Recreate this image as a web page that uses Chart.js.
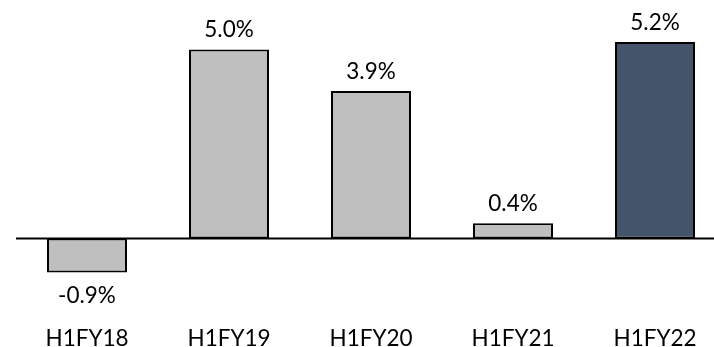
<!DOCTYPE html>
<html>
<head>
<meta charset="utf-8">
<script src="https://cdn.jsdelivr.net/npm/chart.js@4/dist/chart.umd.min.js"></script>
<style>
  html, body { margin: 0; padding: 0; background: #fff; overflow: hidden; }
  #wrap { position: relative; width: 726px; height: 347px; }
</style>
</head>
<body>
<div id="wrap"><canvas id="c"></canvas></div>
<script>
// Half-year growth figures
const categories = ['H1FY18', 'H1FY19', 'H1FY20', 'H1FY21', 'H1FY22'];
const growth = [-0.9, 5.0, 3.9, 0.4, 5.2];
const valueLabels = ['-0.9%', '5.0%', '3.9%', '0.4%', '5.2%'];

const FONT = 'Lato, "DejaVu Sans", sans-serif';
const FONT_SIZE = 22.5;
const fills = growth.map((v, i) => i === growth.length - 1 ? '#44546a' : '#bfbfbf');

// Zero baseline across the plot, then value labels above/below each bar
const baseline = {
  id: 'baseline',
  afterDatasetsDraw(chart) {
    const { ctx, chartArea, scales } = chart;
    const y0 = scales.y.getPixelForValue(0);
    ctx.save();
    ctx.strokeStyle = '#000';
    ctx.lineWidth = 2;
    ctx.beginPath();
    ctx.moveTo(chartArea.left, y0);
    ctx.lineTo(chartArea.right, y0);
    ctx.stroke();

    ctx.fillStyle = '#000';
    ctx.font = FONT_SIZE + 'px ' + FONT;
    ctx.textAlign = 'center';
    ctx.textBaseline = 'alphabetic';
    const meta = chart.getDatasetMeta(0);
    meta.data.forEach((bar, i) => {
      const v = growth[i];
      if (v >= 0) {
        ctx.fillText(valueLabels[i], bar.x, bar.y - 12);
      } else {
        ctx.fillText(valueLabels[i], bar.x, bar.y + 31);
      }
    });
    ctx.restore();
  }
};

new Chart(document.getElementById('c'), {
  type: 'bar',
  data: {
    labels: categories,
    datasets: [{
      data: growth,
      backgroundColor: fills,
      borderColor: '#000',
      borderWidth: 2,
      borderSkipped: false,
      categoryPercentage: 1,
      barPercentage: 80 / 142
    }]
  },
  options: {
    responsive: true,
    maintainAspectRatio: false,
    animation: false,
    layout: { padding: { left: 16, right: 0, top: 0, bottom: 0 } },
    plugins: { legend: { display: false }, tooltip: { enabled: false } },
    scales: {
      x: {
        grid: { display: false },
        border: { display: false },
        ticks: { color: '#000', font: { family: FONT, size: FONT_SIZE }, padding: 17 },
        afterFit(scale) { scale.height = 47; }
      },
      y: {
        display: false,
        min: -1.63,
        max: 6.31
      }
    }
  },
  plugins: [baseline]
});
</script>
</body>
</html>
